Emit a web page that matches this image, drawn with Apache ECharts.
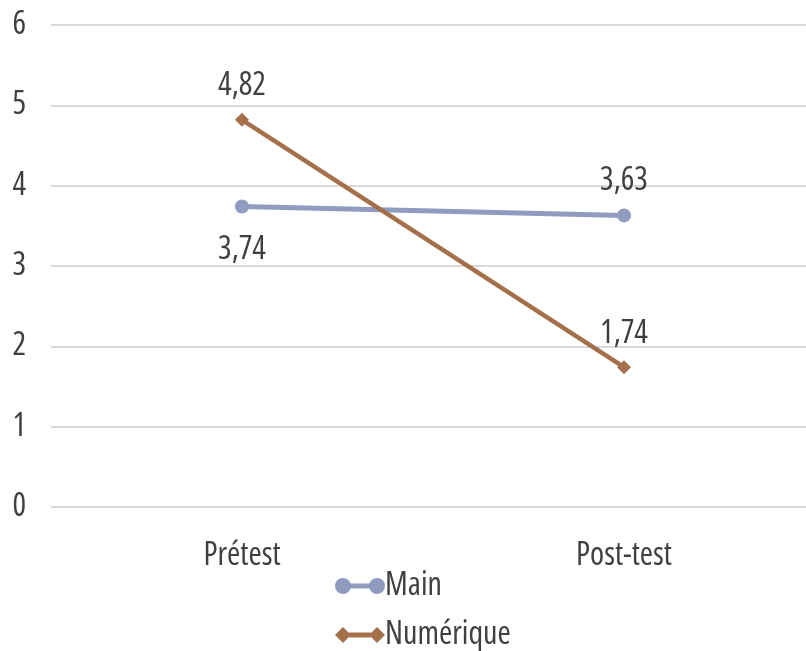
<!DOCTYPE html>
<html>
<head>
<meta charset="utf-8">
<script src="https://cdn.jsdelivr.net/npm/echarts@6/dist/echarts.min.js"></script>
<style>
  html, body { margin: 0; padding: 0; background: #ffffff; }
  #chart { width: 806px; height: 651px; }
</style>
</head>
<body>
<div id="chart"></div>
<script>
// Mean scores before and after, by medium
const categories = ['Prétest', 'Post-test'];
const mainValues = [3.74, 3.63];
const numeriqueValues = [4.82, 1.74];
const seriesNames = ['Main', 'Numérique'];
const yTicks = [0, 1, 2, 3, 4, 5, 6];

// Narrow face: Open Sans at its condensed width
const FONT = "'Open Sans', 'Roboto Condensed', sans-serif";
const STRETCH = 'condensed';
const TEXT = '#404040';
const BLUE = '#8f9bbf';
const BROWN = '#a4704a';
const FS = 32;

const txt = extra => Object.assign({
  color: TEXT, fontFamily: FONT, fontStyle: STRETCH, fontSize: FS
}, extra || {});

const fmt = v => String(v).replace('.', ',');

// Legend icons: a line segment with a marker at each end
const circleIcon = 'path://M0,8 A8,8 0 1,1 16,8 A8,8 0 1,1 0,8 Z M14,5.5 L36,5.5 L36,10.5 L14,10.5 Z M34,8 A8,8 0 1,1 50,8 A8,8 0 1,1 34,8 Z';
const diamondIcon = 'path://M0,8 L8,0 L16,8 L8,16 Z M14,5.5 L36,5.5 L36,10.5 L14,10.5 Z M34,8 L42,0 L50,8 L42,16 Z';

// Label placement per point: [position, distance]
const mainLabelPos = [['bottom', 20], ['top', 11]];
const numLabelPos = [['top', 11], ['top', 10]];

const chart = echarts.init(document.getElementById('chart'), null, { renderer: 'canvas' });

chart.setOption({
  animation: false,
  backgroundColor: '#ffffff',
  grid: { left: 51, width: 764, top: 25, height: 482, outerBoundsMode: 'none', containLabel: false },
  xAxis: {
    type: 'category',
    data: categories,
    boundaryGap: true,
    axisLine: { show: false },
    axisTick: { show: false },
    axisLabel: txt({ margin: 33 })
  },
  yAxis: {
    type: 'value',
    min: yTicks[0],
    max: yTicks[yTicks.length - 1],
    interval: 1,
    axisLine: { show: false },
    axisTick: { show: false },
    axisLabel: txt({ margin: 25 }),
    splitLine: { lineStyle: { color: '#d9d9d9', width: 2 } }
  },
  legend: {
    orient: 'vertical',
    left: 335,
    top: 570,
    height: 81,
    padding: 0,
    itemWidth: 50,
    itemHeight: 16,
    itemGap: 17,
    textStyle: txt({ padding: [0, 0, 0, -5] }),
    data: [
      { name: seriesNames[0], icon: circleIcon },
      { name: seriesNames[1], icon: diamondIcon }
    ]
  },
  series: [
    {
      name: seriesNames[0],
      type: 'line',
      data: mainValues.map((v, i) => ({
        value: v,
        label: { position: mainLabelPos[i][0], distance: mainLabelPos[i][1] }
      })),
      symbol: 'circle',
      symbolSize: 14,
      itemStyle: { color: BLUE },
      lineStyle: { color: BLUE, width: 5 },
      label: txt({ show: true, formatter: p => fmt(p.value) }),
      z: 2
    },
    {
      name: seriesNames[1],
      type: 'line',
      data: numeriqueValues.map((v, i) => ({
        value: v,
        label: { position: numLabelPos[i][0], distance: numLabelPos[i][1] }
      })),
      symbol: 'diamond',
      symbolSize: 14,
      itemStyle: { color: BROWN },
      lineStyle: { color: BROWN, width: 4.5 },
      label: txt({ show: true, formatter: p => fmt(p.value) }),
      z: 3
    }
  ]
});
</script>
</body>
</html>
